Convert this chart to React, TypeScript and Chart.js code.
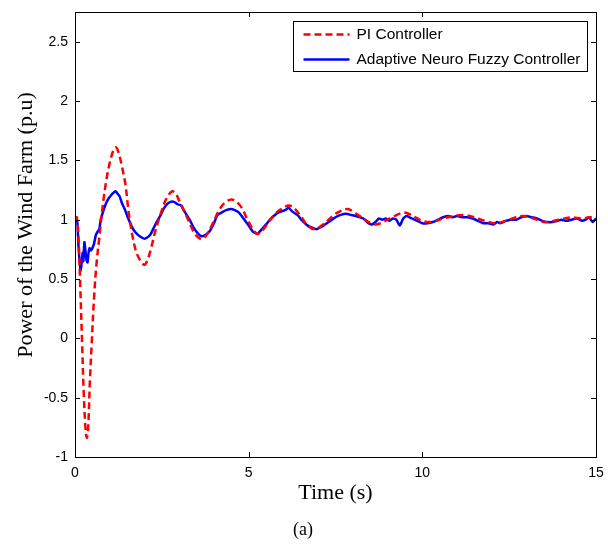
import React, { useEffect, useRef } from "react";
import { Chart, registerables } from "chart.js";

Chart.register(...registerables);

// PI controller response
const piTime = [0, 0.05, 0.1, 0.15, 0.2, 0.25, 0.3, 0.34, 0.38, 0.43, 0.48, 0.55, 0.62, 0.7, 0.8, 0.9, 1.0, 1.1, 1.17, 1.25, 1.35, 1.45, 1.55, 1.65, 1.75, 1.87, 2.0, 2.1, 2.2, 2.3, 2.4, 2.5, 2.6, 2.7, 2.8, 2.9, 3.0, 3.15, 3.3, 3.45, 3.6, 3.7, 3.85, 4.0, 4.15, 4.3, 4.5, 4.65, 4.8, 4.95, 5.1, 5.25, 5.4, 5.6, 5.8, 6.0, 6.15, 6.3, 6.5, 6.7, 6.9, 7.1, 7.3, 7.5, 7.7, 7.85, 8.0, 8.2, 8.4, 8.6, 8.8, 9.0, 9.2, 9.45, 9.6, 9.8, 10.0, 10.2, 10.4, 10.6, 10.9, 11.2, 11.5, 11.8, 12.1, 12.4, 12.7, 12.9, 13.2, 13.5, 13.8, 14.1, 14.3, 14.6, 14.8, 15.0];
const piPower = [1.0, 1.02, 0.85, 0.45, 0.0, -0.45, -0.75, -0.84, -0.75, -0.35, -0.05, 0.35, 0.63, 0.85, 1.12, 1.33, 1.48, 1.58, 1.61, 1.57, 1.45, 1.3, 1.05, 0.87, 0.74, 0.66, 0.62, 0.67, 0.77, 0.89, 0.99, 1.08, 1.16, 1.21, 1.24, 1.22, 1.16, 1.07, 0.97, 0.88, 0.84, 0.84, 0.9, 0.99, 1.08, 1.14, 1.17, 1.15, 1.1, 1.01, 0.93, 0.88, 0.91, 0.99, 1.06, 1.1, 1.12, 1.1, 1.03, 0.95, 0.92, 0.95, 1.0, 1.05, 1.08, 1.09, 1.07, 1.03, 0.99, 0.96, 0.97, 1.0, 1.03, 1.06, 1.05, 1.02, 0.99, 0.98, 0.99, 1.01, 1.03, 1.04, 1.02, 0.99, 0.97, 0.99, 1.02, 1.03, 1.01, 0.98, 0.99, 1.01, 1.02, 1.01, 1.02, 1.02];

// Adaptive Neuro Fuzzy controller response
const anfcTime = [0, 0.04, 0.07, 0.1, 0.13, 0.16, 0.19, 0.22, 0.24, 0.27, 0.3, 0.33, 0.36, 0.39, 0.42, 0.46, 0.5, 0.55, 0.6, 0.65, 0.7, 0.74, 0.8, 0.87, 0.95, 1.05, 1.12, 1.17, 1.22, 1.28, 1.35, 1.43, 1.52, 1.62, 1.72, 1.82, 1.92, 2.0, 2.08, 2.16, 2.25, 2.35, 2.45, 2.55, 2.65, 2.75, 2.85, 2.95, 3.05, 3.15, 3.3, 3.42, 3.55, 3.65, 3.75, 3.87, 4.0, 4.1, 4.22, 4.35, 4.5, 4.6, 4.72, 4.85, 5.0, 5.12, 5.25, 5.35, 5.5, 5.65, 5.8, 5.95, 6.05, 6.15, 6.25, 6.4, 6.55, 6.7, 6.85, 6.95, 7.1, 7.3, 7.5, 7.65, 7.8, 7.95, 8.1, 8.3, 8.45, 8.55, 8.65, 8.75, 8.85, 8.95, 9.05, 9.15, 9.25, 9.35, 9.45, 9.55, 9.7, 9.85, 10.0, 10.15, 10.3, 10.45, 10.6, 10.75, 10.85, 11.0, 11.15, 11.3, 11.45, 11.6, 11.75, 11.9, 12.05, 12.15, 12.25, 12.4, 12.55, 12.7, 12.85, 13.0, 13.15, 13.3, 13.45, 13.6, 13.75, 13.9, 14.0, 14.15, 14.3, 14.45, 14.6, 14.7, 14.8, 14.9, 15.0];
const anfcPower = [1.0, 1.0, 0.97, 0.78, 0.66, 0.57, 0.63, 0.72, 0.65, 0.81, 0.74, 0.66, 0.64, 0.72, 0.76, 0.74, 0.76, 0.8, 0.87, 0.9, 0.92, 1.0, 1.06, 1.12, 1.17, 1.21, 1.23, 1.24, 1.22, 1.2, 1.14, 1.09, 1.02, 0.95, 0.9, 0.87, 0.85, 0.84, 0.85, 0.87, 0.92, 0.98, 1.03, 1.09, 1.13, 1.15, 1.15, 1.13, 1.12, 1.07, 1.0, 0.93, 0.88, 0.86, 0.87, 0.9, 0.97, 1.04, 1.06, 1.08, 1.09, 1.08, 1.06, 1.01, 0.95, 0.9, 0.88, 0.91, 0.96, 1.01, 1.05, 1.07, 1.08, 1.1, 1.07, 1.04, 0.99, 0.95, 0.93, 0.92, 0.94, 0.98, 1.02, 1.04, 1.05, 1.04, 1.03, 1.01, 0.97, 0.96, 0.98, 1.01, 1.0, 1.01, 0.99, 1.01, 1.0, 0.95, 1.01, 1.03, 1.01, 0.99, 0.97, 0.97, 0.98, 1.0, 1.02, 1.03, 1.02, 1.03, 1.02, 1.02, 1.01, 0.99, 0.97, 0.97, 0.96, 0.98, 0.97, 0.99, 1.0, 1.0, 1.02, 1.03, 1.02, 1.01, 0.99, 0.98, 0.98, 0.99, 1.0, 0.99, 1.0, 1.01, 0.99, 1.0, 1.02, 0.98, 1.01];

const xTicks = [0, 5, 10, 15];
const yTicks = [-1, -0.5, 0, 0.5, 1, 1.5, 2, 2.5];
const seriesLabels = ["PI Controller", "Adaptive Neuro Fuzzy Controller"];
const seriesColors = ["#FF0000", "#0000FF"];
const yTitle = "Power of the Wind Farm (p.u)";
const caption = "(a)";

const framePlugin = {
  id: "framePlugin",
  afterDraw(chart: any) {
    const { ctx, chartArea } = chart;
    const { left, right, top, bottom } = chartArea;
    const xs = chart.scales.x;
    const ys = chart.scales.y;
    ctx.save();
    ctx.strokeStyle = "#000";
    ctx.lineWidth = 1;
    ctx.strokeRect(Math.round(left) + 0.5, Math.round(top) + 0.5, Math.round(right - left), Math.round(bottom - top));
    const tl = 5;
    ctx.beginPath();
    xTicks.forEach((v) => {
      const px = Math.round(xs.getPixelForValue(v)) + 0.5;
      ctx.moveTo(px, bottom);
      ctx.lineTo(px, bottom - tl);
      ctx.moveTo(px, top);
      ctx.lineTo(px, top + tl);
    });
    yTicks.forEach((v) => {
      const py = Math.round(ys.getPixelForValue(v)) + 0.5;
      ctx.moveTo(left, py);
      ctx.lineTo(left + tl, py);
      ctx.moveTo(right, py);
      ctx.lineTo(right - tl, py);
    });
    ctx.stroke();

    // legend box
    const bw = 294;
    const bh = 50;
    const bx = Math.round(right - 9 - bw) + 0.5;
    const by = Math.round(top + 9) + 0.5;
    ctx.fillStyle = "#fff";
    ctx.fillRect(bx, by, bw, bh);
    ctx.strokeStyle = "#000";
    ctx.lineWidth = 1;
    ctx.strokeRect(bx, by, bw, bh);
    ctx.font = "15.5px Arial, 'Liberation Sans', sans-serif";
    ctx.textBaseline = "middle";
    ctx.textAlign = "left";
    seriesLabels.forEach((lab, i) => {
      const cy = by + 13 + i * 25;
      ctx.beginPath();
      ctx.strokeStyle = seriesColors[i];
      ctx.lineWidth = 2.5;
      ctx.setLineDash(i === 0 ? [7, 4] : []);
      ctx.moveTo(bx + 10, cy);
      ctx.lineTo(bx + 56, cy);
      ctx.stroke();
      ctx.setLineDash([]);
      ctx.fillStyle = "#000";
      ctx.fillText(lab, bx + 63, cy);
    });

    // y-axis title
    ctx.save();
    ctx.translate(26, 225);
    ctx.rotate(-Math.PI / 2);
    ctx.font = "22px 'Times New Roman', 'Liberation Serif', serif";
    ctx.textAlign = "center";
    ctx.textBaseline = "middle";
    ctx.fillStyle = "#000";
    ctx.fillText(yTitle, 0, 0);
    ctx.restore();

    // caption
    ctx.font = "18px 'Times New Roman', 'Liberation Serif', serif";
    ctx.textAlign = "center";
    ctx.textBaseline = "middle";
    ctx.fillStyle = "#000";
    ctx.fillText(caption, 303, 530);
    ctx.restore();
  },
};

const zeroPad = (s: any) => {
  s.paddingTop = 0;
  s.paddingBottom = 0;
  s.paddingLeft = 0;
  s.paddingRight = 0;
};

export default function App() {
  const ref = useRef<HTMLCanvasElement | null>(null);
  useEffect(() => {
    if (!ref.current) return;
    const chart = new Chart(ref.current, {
      type: "line",
      data: {
        datasets: [
          {
            label: seriesLabels[0],
            data: piTime.map((t, i) => ({ x: t, y: piPower[i] })),
            borderColor: seriesColors[0],
            borderWidth: 2.5,
            borderDash: [7, 4],
            pointRadius: 0,
            tension: 0.35,
            fill: false,
          },
          {
            label: seriesLabels[1],
            data: anfcTime.map((t, i) => ({ x: t, y: anfcPower[i] })),
            borderColor: seriesColors[1],
            borderWidth: 2.5,
            pointRadius: 0,
            tension: 0.2,
            fill: false,
          },
        ],
      },
      options: {
        responsive: false,
        animation: false,
        layout: { padding: { top: 12, right: 12, bottom: 37, left: 0 } },
        plugins: {
          legend: { display: false },
          tooltip: { enabled: false },
          title: { display: false },
        },
        scales: {
          x: {
            type: "linear",
            min: 0,
            max: 15,
            afterBuildTicks: (s: any) => {
              s.ticks = xTicks.map((v) => ({ value: v }));
            },
            afterFit: (s: any) => {
              s.height = 50;
              zeroPad(s);
            },
            grid: { display: false, drawTicks: false },
            border: { display: false },
            ticks: {
              color: "#000",
              padding: 8,
              maxRotation: 0,
              callback: (v: any) => String(v),
              font: { family: "Arial, 'Liberation Sans', sans-serif", size: 14 },
            },
            title: {
              display: true,
              text: "Time (s)",
              color: "#000",
              padding: { top: 0, bottom: 1 },
              font: { family: "'Times New Roman', 'Liberation Serif', serif", size: 22 },
            },
          },
          y: {
            type: "linear",
            min: -1,
            max: 2.75,
            afterBuildTicks: (s: any) => {
              s.ticks = yTicks.map((v) => ({ value: v }));
            },
            afterFit: (s: any) => {
              s.width = 75;
              zeroPad(s);
            },
            grid: { display: false, drawTicks: false },
            border: { display: false },
            ticks: {
              color: "#000",
              padding: 7,
              callback: (v: any) => String(v),
              font: { family: "Arial, 'Liberation Sans', sans-serif", size: 14 },
            },
            title: { display: false },
          },
        },
      },
      plugins: [framePlugin],
    });
    return () => chart.destroy();
  }, []);
  return (
    <div style={{ position: "fixed", left: 0, top: 0, width: 608, height: 544, background: "#fff" }}>
      <canvas ref={ref} width={608} height={544} style={{ width: 608, height: 544 }} />
    </div>
  );
}
